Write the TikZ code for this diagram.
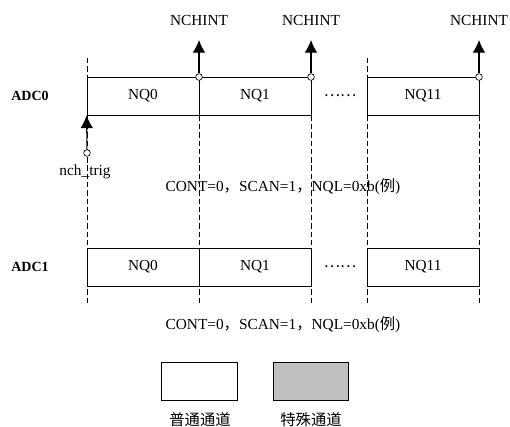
\documentclass[tikz,border=0pt]{standalone}
\usepackage{fontspec}
\setmainfont{Liberation Serif}
\newfontfamily\cjk{Noto Sans CJK SC}
\usetikzlibrary{arrows.meta}

\begin{document}
\begin{tikzpicture}[x=0.75pt, y=-0.75pt,
    slot/.style={draw, line width=0.6pt, minimum width=84pt, minimum height=28.5pt,
                 inner sep=0pt, font=\fontsize{11.5}{13}\selectfont},
    adc/.style={font=\fontsize{10.5}{12}\selectfont\bfseries},
    txt/.style={font=\fontsize{11.5}{13}\selectfont, inner sep=0pt},
    tap/.style={circle, draw, fill=white, line width=0.5pt, minimum size=5pt, inner sep=0pt},
    arr/.style={-{Latex[length=9.5pt, width=9.5pt]}, line width=0.8pt},
    guide/.style={dashed, dash pattern=on 4pt off 2.2pt, line width=0.6pt},
    legend/.style={draw, line width=0.6pt, minimum width=56.5pt, minimum height=28.5pt, inner sep=0pt},
  ]
    \useasboundingbox (0,0) rectangle (510,426);

    % Guide lines ------------------------------------------------------------
    \draw[guide] (87,58)  -- (87,303);
    \draw[guide] (199,58) -- (199,303);
    \draw[guide] (311,58) -- (311,303);
    \draw[guide] (367,58) -- (367,303);
    \draw[guide] (479,58) -- (479,303);

    % ADC0 row ---------------------------------------------------------------
    \node[adc]  (adc0)    at (30,96)   {ADC0};
    \node[slot] (a0nq0)   at (143,96)  {NQ0};
    \node[slot] (a0nq1)   at (255,96)  {NQ1};
    \node[txt]  (a0dots)  at (340,96)  {\cjk ……};
    \node[slot] (a0nq11)  at (423,96)  {NQ11};

    % ADC1 row ---------------------------------------------------------------
    \node[adc]  (adc1)    at (30,267)  {ADC1};
    \node[slot] (a1nq0)   at (143,267) {NQ0};
    \node[slot] (a1nq1)   at (255,267) {NQ1};
    \node[txt]  (a1dots)  at (340,267) {\cjk ……};
    \node[slot] (a1nq11)  at (423,267) {NQ11};

    % Interrupts -------------------------------------------------------------
    \node[txt] (int0) at (199,20) {NCHINT};
    \node[txt] (int1) at (311,20) {NCHINT};
    \node[txt] (int2) at (479,20) {NCHINT};
    \coordinate (tip0) at (199,40);
    \coordinate (tip1) at (311,40);
    \coordinate (tip2) at (479,40);
    \node[tap] (tap0) at (199,77) {};
    \node[tap] (tap1) at (311,77) {};
    \node[tap] (tap2) at (479,77) {};
    \draw[arr] (tap0) -- (tip0);
    \draw[arr] (tap1) -- (tip1);
    \draw[arr] (tap2) -- (tip2);

    % Trigger ----------------------------------------------------------------
    \node[tap] (trig) at (87,153) {};
    \node[txt] (triglbl) at (85,172) {nch\_trig};
    \draw[arr] (trig) -- (a0nq0.south west);

    % Notes ------------------------------------------------------------------
    \node[txt] (note0) at (283,187) {CONT=0{\cjk ，}SCAN=1{\cjk ，}NQL=0xb({\cjk 例})};
    \node[txt] (note1) at (283,325) {CONT=0{\cjk ，}SCAN=1{\cjk ，}NQL=0xb({\cjk 例})};

    % Legend -----------------------------------------------------------------
    \node[legend, fill=white]      (plain)   at (199.5,381) {};
    \node[legend, fill=black!25]   (special) at (311,381)   {};
    \node[txt] (plainlbl)   at (200,420) {\cjk 普通通道};
    \node[txt] (speciallbl) at (311,420) {\cjk 特殊通道};
  \end{tikzpicture}
\end{document}
